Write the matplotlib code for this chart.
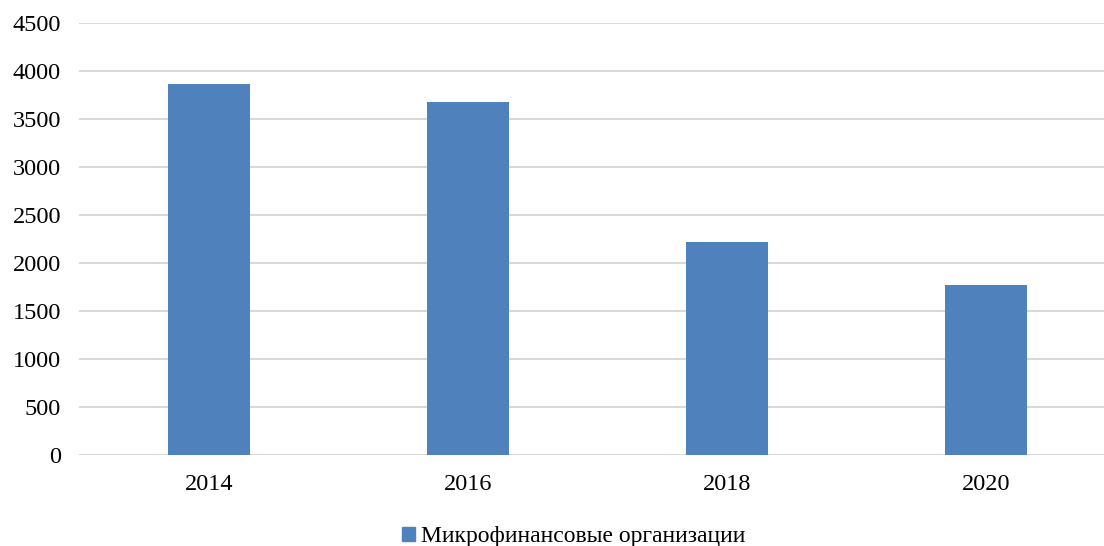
import numpy as np
import matplotlib.pyplot as plt
from matplotlib.patches import Patch

plt.rcParams['font.family'] = ['Liberation Serif', 'DejaVu Serif']

years = ['2014', '2016', '2018', '2020']
mfo_count = [3865, 3675, 2215, 1775]
series_name = 'Микрофинансовые организации'

bar_color = '#4f81bd'

fig = plt.figure(figsize=(11.04, 5.46), dpi=100)
# axes run a bit past the right edge of the figure
ax = fig.add_axes([79 / 1104, 91 / 546, 1037 / 1104, 432 / 546])

x = np.arange(len(years))
ax.bar(x, mfo_count, width=0.316, color=bar_color, zorder=3)

ax.set_xlim(-0.5, len(years) - 0.5)
ax.set_ylim(0, 4500)
ax.set_yticks(np.arange(0, 4501, 500))
ax.set_xticks(x)
ax.set_xticklabels(years)
ax.grid(axis='y', color='#d9d9d9', linewidth=1.5, zorder=0)
for s in ax.spines.values():
    s.set_visible(False)
ax.tick_params(axis='both', length=0, labelsize=17.5, colors='#000000')
ax.tick_params(axis='x', pad=14)
ax.tick_params(axis='y', pad=13)

fig.legend(handles=[Patch(color=bar_color, label=series_name)],
           loc='center', bbox_to_anchor=(0.52, 0.017), frameon=False,
           fontsize=17, handlelength=0.55, handleheight=0.55, handletextpad=0.25)

fig.savefig('out.png', dpi=100)
